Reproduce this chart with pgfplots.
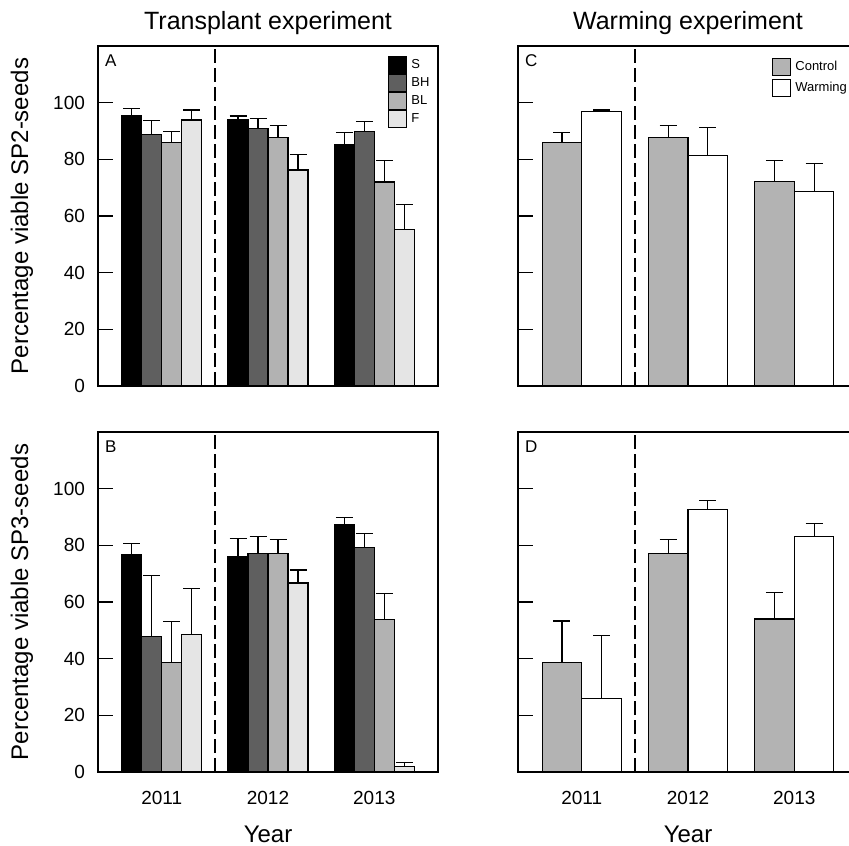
\documentclass[border=0pt]{standalone}
\usepackage{fontspec}
\setmainfont{Liberation Sans}
\usepackage{pgfplots}
\usepackage{pgfplotstable}
\pgfplotsset{compat=1.18}

\definecolor{cBH}{HTML}{5F5F5F}
\definecolor{cBL}{HTML}{B2B2B2}
\definecolor{cF}{HTML}{E5E5E5}
\definecolor{cCtrl}{HTML}{B3B3B3}

% value and upper error for each year (2011, 2012, 2013 at x = 0, 1, 2)
\pgfplotstableread{
x S eS BH eBH BL eBL F eF
0 95.4 2.6 88.7 4.9 86.0 3.8 93.9 3.5
1 93.9 1.4 90.8 3.7 87.7 4.1 76.2 5.5
2 85.2 4.3 89.8 3.5 72.0 7.7 55.1 8.8
}\tabA
\pgfplotstableread{
x S eS BH eBH BL eBL F eF
0 76.8 3.7 47.9 21.6 38.6 14.6 48.6 16.2
1 76.0 6.4 77.1 6.1 77.1 5.0 66.7 4.6
2 87.2 2.5 79.3 4.8 53.9 9.1 2.0 1.5
}\tabB
\pgfplotstableread{
x C eC W eW
0 85.8 3.8 96.8 0.6
1 87.6 4.2 81.3 10.0
2 72.2 7.4 68.7 9.8
}\tabC
\pgfplotstableread{
x C eC W eW
0 38.6 14.7 26.0 22.3
1 77.1 5.0 92.6 3.2
2 54.0 9.2 83.2 4.5
}\tabD

\tikzset{
  divider/.style={black, line width=1.2pt, dash pattern=on 7pt off 2.5pt},
  lettr/.style={anchor=north west, font=\fontsize{8.5}{10}\selectfont, yshift=-1pt},
}
\pgfplotsset{
  panel/.style={
    width=170pt, height=170pt, scale only axis,
    xmin=-0.6, xmax=2.6, ymin=0, ymax=120,
    ytick={0,20,...,100},
    xtick={0,1,2},
    ytick pos=left,
    tick align=inside, major tick length=7.5pt,
    xtick style={draw=none},
    ytick style={line width=0.6pt, black},
    axis line style={line width=0.6pt},
    ybar=0pt,
    tick label style={font=\fontsize{9.5}{11}\selectfont},
    /pgf/number format/assume math mode=true,
    yticklabel style={xshift=-3pt},
    xticklabel style={anchor=base, yshift=-8.5pt},
    error bars/y dir=plus, error bars/y explicit,
    error bars/error bar style={line width=0.55pt, black},
    error bars/error mark options={rotate=90, mark size=4.25pt, line width=0.55pt, black},
    every axis plot/.append style={draw=black, line width=0.6pt,
      legend image code/.code={\draw[##1, line width=0.5pt] (0pt,-4.25pt) rectangle (9pt,4.25pt);}},
    legend cell align=left,
    title style={font=\fontsize{12.5}{15}\selectfont, at={(0.5,1)}, anchor=south, yshift=-4pt},
    xlabel style={font=\fontsize{12}{14}\selectfont, at={(axis description cs:0.5,-0.206)}, anchor=base},
    ylabel style={font=\fontsize{12}{14}\selectfont, at={(axis description cs:-0.2235,0.5)}, anchor=center},
  },
}

\begin{document}
\begin{tikzpicture}
\useasboundingbox (0,0) rectangle (424.5pt,-422.5pt);
\clip (0,0) rectangle (424.5pt,-422.5pt);

% A
\begin{axis}[panel, at={(49pt,-23pt)}, anchor=north west,
  bar width=10pt, xticklabels={}, title={Transplant experiment},
  ylabel={Percentage viable SP2-seeds},
  legend style={at={(0.853,0.974)}, anchor=north west, draw=none, fill=none,
    inner sep=0pt, row sep=-1pt, font=\fontsize{6.5}{7.5}\selectfont}]
\addplot[fill=black] table[x=x, y=S, y error=eS] {\tabA};
\addplot[fill=cBH] table[x=x, y=BH, y error=eBH] {\tabA};
\addplot[fill=cBL] table[x=x, y=BL, y error=eBL] {\tabA};
\addplot[fill=cF] table[x=x, y=F, y error=eF] {\tabA};
\legend{S, BH, BL, F}
\draw[divider] (axis cs:0.5,0) -- (axis cs:0.5,120);
\node[lettr] at (rel axis cs:0,1) {A};
\end{axis}

% B
\begin{axis}[panel, at={(49pt,-216pt)}, anchor=north west,
  bar width=10pt, xticklabels={2011,2012,2013}, xlabel={Year},
  ylabel={Percentage viable SP3-seeds}]
\addplot[fill=black] table[x=x, y=S, y error=eS] {\tabB};
\addplot[fill=cBH] table[x=x, y=BH, y error=eBH] {\tabB};
\addplot[fill=cBL] table[x=x, y=BL, y error=eBL] {\tabB};
\addplot[fill=cF] table[x=x, y=F, y error=eF] {\tabB};
\draw[divider] (axis cs:0.5,0) -- (axis cs:0.5,120);
\node[lettr] at (rel axis cs:0,1) {B};
\end{axis}

% C
\begin{axis}[panel, at={(259pt,-23pt)}, anchor=north west,
  bar width=19.8pt, xticklabels={}, yticklabels={}, title={Warming experiment},
  legend style={at={(0.747,0.968)}, anchor=north west, draw=none, fill=none,
    inner sep=0pt, row sep=0pt, font=\fontsize{6.5}{7.5}\selectfont}]
\addplot[fill=cCtrl] table[x=x, y=C, y error=eC] {\tabC};
\addplot[fill=white] table[x=x, y=W, y error=eW] {\tabC};
\legend{Control, Warming}
\draw[divider] (axis cs:0.5,0) -- (axis cs:0.5,120);
\node[lettr] at (rel axis cs:0,1) {C};
\end{axis}

% D
\begin{axis}[panel, at={(259pt,-216pt)}, anchor=north west,
  bar width=19.8pt, xticklabels={2011,2012,2013}, yticklabels={}, xlabel={Year}]
\addplot[fill=cCtrl] table[x=x, y=C, y error=eC] {\tabD};
\addplot[fill=white] table[x=x, y=W, y error=eW] {\tabD};
\draw[divider] (axis cs:0.5,0) -- (axis cs:0.5,120);
\node[lettr] at (rel axis cs:0,1) {D};
\end{axis}
\end{tikzpicture}
\end{document}
